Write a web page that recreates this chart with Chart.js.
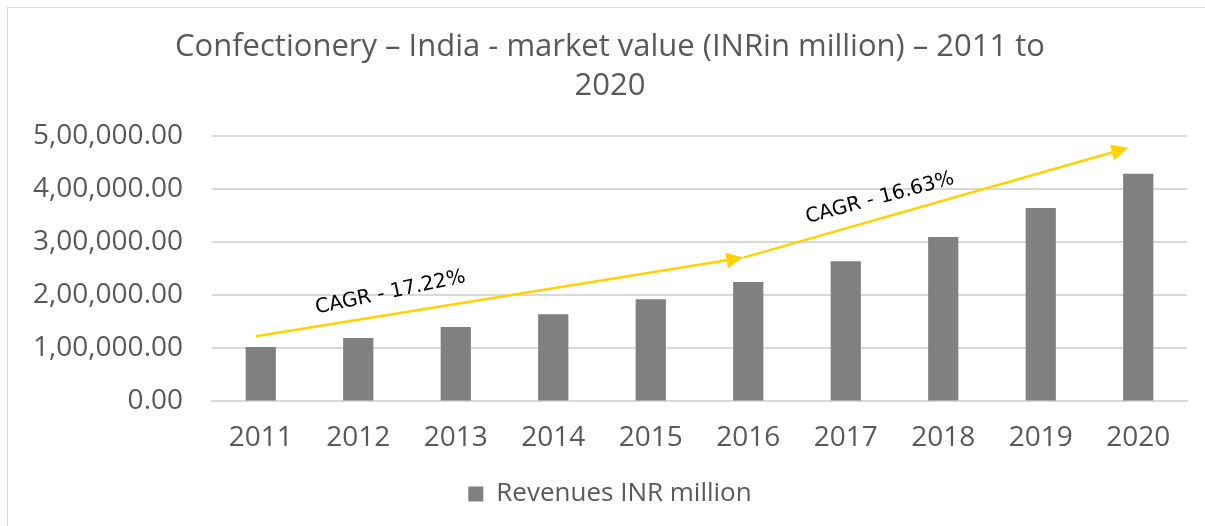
<!DOCTYPE html>
<html>
<head>
<meta charset="utf-8">
<script src="https://cdn.jsdelivr.net/npm/chart.js@4.4.0/dist/chart.umd.min.js"></script>
<style>
  html, body { margin: 0; padding: 0; background: #fff; overflow: hidden; }
  #frame { position: absolute; left: 7px; top: 7px; width: 1210px; height: 530px; border: 1px solid #d9d9d9; }
  #wrap { position: absolute; left: 0; top: 0; width: 1205px; height: 526px; }
</style>
</head>
<body>
<div id="frame"></div>
<div id="wrap"><canvas id="myChart"></canvas></div>
<script>
// data
const years = ['2011', '2012', '2013', '2014', '2015', '2016', '2017', '2018', '2019', '2020'];
const revenues = [102400, 119400, 140200, 164200, 192500, 225100, 264200, 310000, 364700, 428900];
const yTicks = [0, 100000, 200000, 300000, 400000, 500000];

// CAGR arrows: [category index, value]
const cagrText = ['CAGR - 17.22%', 'CAGR - 16.63%'];
const arrowFrom = [[-0.05, 122600], [4.95, 271000]];
const arrowTo = [[4.95, 271000], [8.9, 478000]];
const textAt = [[1.33, 205000], [6.35, 383000]];
const textAngle = [-12, -15];

function indian(v) {
    let s = Math.round(v).toString();
    let last3 = s.slice(-3);
    let rest = s.slice(0, -3);
    if (rest) rest = rest.replace(/\B(?=(\d{2})+(?!\d))/g, ',') + ',';
    return rest + last3 + '.00';
}

const cagrPlugin = {
    id: 'cagr',
    afterDatasetsDraw(chart) {
        const ctx = chart.ctx;
        const x = chart.scales.x, y = chart.scales.y;
        ctx.save();
        for (let i = 0; i < arrowFrom.length; i++) {
            let x1 = x.getPixelForValue(arrowFrom[i][0]), y1 = y.getPixelForValue(arrowFrom[i][1]);
            let x2 = x.getPixelForValue(arrowTo[i][0]), y2 = y.getPixelForValue(arrowTo[i][1]);
            let a = Math.atan2(y2 - y1, x2 - x1);
            let head = 17, hw = 8;
            ctx.strokeStyle = '#ffd200';
            ctx.fillStyle = '#ffd200';
            ctx.lineWidth = 2.5;
            ctx.beginPath();
            ctx.moveTo(x1, y1);
            ctx.lineTo(x2 - head * 0.8 * Math.cos(a), y2 - head * 0.8 * Math.sin(a));
            ctx.stroke();
            ctx.beginPath();
            ctx.moveTo(x2, y2);
            ctx.lineTo(x2 - head * Math.cos(a) + hw * Math.sin(a), y2 - head * Math.sin(a) - hw * Math.cos(a));
            ctx.lineTo(x2 - head * Math.cos(a) - hw * Math.sin(a), y2 - head * Math.sin(a) + hw * Math.cos(a));
            ctx.closePath();
            ctx.fill();

            let tx = x.getPixelForValue(textAt[i][0]), ty = y.getPixelForValue(textAt[i][1]);
            ctx.save();
            ctx.translate(tx, ty);
            ctx.rotate(textAngle[i] * Math.PI / 180);
            ctx.fillStyle = '#000';
            ctx.font = '20px "DejaVu Sans"';
            ctx.textAlign = 'center';
            ctx.textBaseline = 'middle';
            ctx.fillText(cagrText[i], 0, 0);
            ctx.restore();
        }
        ctx.restore();
    }
};

var chart = new Chart(document.getElementById('myChart'), {
    type: 'bar',
    data: {
        labels: years,
        datasets: [{
            label: 'Revenues INR million',
            data: revenues,
            backgroundColor: '#808080',
            borderWidth: 0,
            categoryPercentage: 1,
            barPercentage: 0.31
        }]
    },
    options: {
        responsive: true,
        maintainAspectRatio: false,
        animation: false,
        layout: { padding: { left: 33, right: 18, top: 22, bottom: 9 } },
        plugins: {
            title: {
                display: true,
                text: ['Confectionery \u2013 India - market value (INRin million) \u2013 2011 to', '2020'],
                color: '#595959',
                font: { family: 'Open Sans', size: 31, weight: 'normal', lineHeight: 1.26 },
                padding: { top: 6, bottom: 30 }
            },
            legend: {
                position: 'bottom',
                labels: {
                    color: '#595959',
                    font: { family: 'Open Sans', size: 26 },
                    boxWidth: 15,
                    boxHeight: 15,
                    padding: 14
                }
            },
            tooltip: { enabled: false }
        },
        scales: {
            x: {
                grid: { display: false },
                border: { color: '#d9d9d9', width: 2 },
                ticks: { color: '#595959', font: { family: 'Open Sans', size: 28 }, padding: 12 }
            },
            y: {
                min: 0,
                max: 500000,
                afterBuildTicks: (axis) => { axis.ticks = yTicks.map(v => ({ value: v })); },
                afterFit: (axis) => { axis.width = 179; },
                grid: { color: '#d9d9d9', lineWidth: 2, drawTicks: false },
                border: { display: false },
                ticks: {
                    color: '#595959',
                    font: { family: 'Open Sans', size: 28 },
                    padding: 29,
                    callback: (v) => indian(v)
                }
            }
        }
    },
    plugins: [cagrPlugin]
});
</script>
</body>
</html>
